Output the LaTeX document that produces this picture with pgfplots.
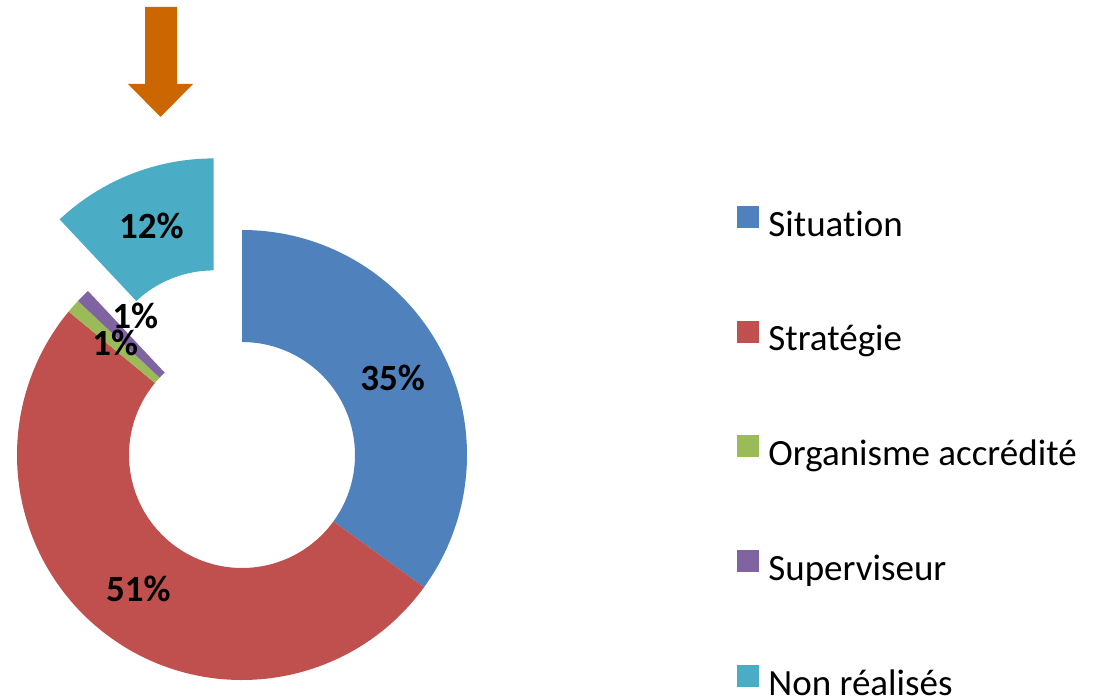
\documentclass[border=0pt]{standalone}
\usepackage{pgfplots}
\pgfplotsset{compat=1.18}
\usepackage{pgfplotstable}
\usepackage{fontspec}
\setmainfont{Carlito}[Ligatures=NoCommon]
\usetikzlibrary{calc}

\definecolor{cSit}{RGB}{79,129,189}
\definecolor{cStr}{RGB}{192,80,77}
\definecolor{cOrg}{RGB}{155,187,89}
\definecolor{cSup}{RGB}{128,100,162}
\definecolor{cNon}{RGB}{75,172,198}
\definecolor{cArrow}{RGB}{204,102,0}

% value = share in percent; explode = offset of the slice (px);
% lshift / lrad = label angle shift (deg) and label radius (px)
\pgfplotstableread{
name value col explode lshift lrad
Situation 35 cSit 0 0 169
Strategie 51 cStr 0 0 169
Organisme 1 cOrg 0 0 169
Superviseur 1 cSup 0 -7.4 175
NonRealises 12 cNon 77 0 169
}\donut

\def\cx{242}\def\cy{244}\def\Ro{225}\def\Ri{113}

\gdef\curang{90}
\pgfplotsforeachungrouped \i in {0,...,4}{%
  \pgfplotstablegetelem{\i}{value}\of\donut \let\val\pgfplotsretval
  \pgfplotstablegetelem{\i}{explode}\of\donut \let\ex\pgfplotsretval
  \pgfplotstablegetelem{\i}{lshift}\of\donut \let\ls\pgfplotsretval
  \pgfplotstablegetelem{\i}{lrad}\of\donut \let\lr\pgfplotsretval
  \pgfplotstablegetelem{\i}{col}\of\donut \let\cl\pgfplotsretval
  \pgfmathsetmacro\s{\curang}%
  \pgfmathsetmacro\e{\curang-3.6*\val}%
  \pgfmathsetmacro\m{(\s+\e)/2}%
  \pgfmathsetmacro\ccx{\cx+\ex*cos(\m)}%
  \pgfmathsetmacro\ccy{\cy+\ex*sin(\m)}%
  \pgfmathsetmacro\lx{\ccx+\lr*cos(\m+\ls)}%
  \pgfmathsetmacro\ly{\ccy+\lr*sin(\m+\ls)}%
  \expandafter\xdef\csname dS\i\endcsname{\s}%
  \expandafter\xdef\csname dE\i\endcsname{\e}%
  \expandafter\xdef\csname dX\i\endcsname{\ccx}%
  \expandafter\xdef\csname dY\i\endcsname{\ccy}%
  \expandafter\xdef\csname dLX\i\endcsname{\lx}%
  \expandafter\xdef\csname dLY\i\endcsname{\ly}%
  \expandafter\xdef\csname dV\i\endcsname{\val}%
  \expandafter\xdef\csname dC\i\endcsname{\cl}%
  \xdef\curang{\e}%
}

\tikzset{dlabel/.style={font=\fontsize{37}{40}\selectfont\bfseries, text=black, inner sep=0pt}}

\begin{document}
\begin{tikzpicture}
\begin{axis}[
  width=1108pt, height=699pt, scale only axis,
  xmin=0, xmax=1108, ymin=0, ymax=699,
  enlargelimits=false, hide axis, clip=false,
  legend image code/.code={\fill[#1] (0pt,0pt) rectangle (21pt,21pt);},
  legend cell align=left,
  legend style={at={(axis cs:737,493)}, anchor=north west,
    draw=none, fill=none, inner sep=0pt, outer sep=0pt,
    row sep=76.5pt, column sep=10pt,
    font=\fontsize{37}{40}\selectfont,
    nodes={inner sep=0pt, text height=26pt, text depth=8pt}},
]
\coordinate (BL) at (axis cs:0,0);
\coordinate (TR) at (axis cs:1108,699);

% donut slices
\pgfplotsinvokeforeach{0,...,4}{%
  \edef\temp{\noexpand\fill[\csname dC#1\endcsname]
    ($(axis cs:\csname dX#1\endcsname,\csname dY#1\endcsname)+(\csname dS#1\endcsname:\Ro pt)$)
    arc[start angle=\csname dS#1\endcsname, end angle=\csname dE#1\endcsname, radius=\Ro pt]
    -- ($(axis cs:\csname dX#1\endcsname,\csname dY#1\endcsname)+(\csname dE#1\endcsname:\Ri pt)$)
    arc[start angle=\csname dE#1\endcsname, end angle=\csname dS#1\endcsname, radius=\Ri pt]
    -- cycle;}%
  \temp
}
% data labels
\pgfplotsinvokeforeach{0,...,4}{%
  \edef\temp{\noexpand\node[dlabel] at (axis cs:\csname dLX#1\endcsname,\csname dLY#1\endcsname) {\csname dV#1\endcsname\noexpand\%};}%
  \temp
}

% orange arrow
\fill[cArrow] (axis cs:145,692) -- (axis cs:177,692) -- (axis cs:177,615)
  -- (axis cs:193,615) -- (axis cs:160.5,582) -- (axis cs:128,615)
  -- (axis cs:145,615) -- cycle;

\addlegendimage{cSit}\addlegendentry{Situation}
\addlegendimage{cStr}\addlegendentry{Stratégie}
\addlegendimage{cOrg}\addlegendentry{Organisme accrédité}
\addlegendimage{cSup}\addlegendentry{Superviseur}
\addlegendimage{cNon}\addlegendentry{Non réalisés}
\end{axis}
\pgfresetboundingbox
\path[use as bounding box] (BL) rectangle (TR);
\end{tikzpicture}
\end{document}
